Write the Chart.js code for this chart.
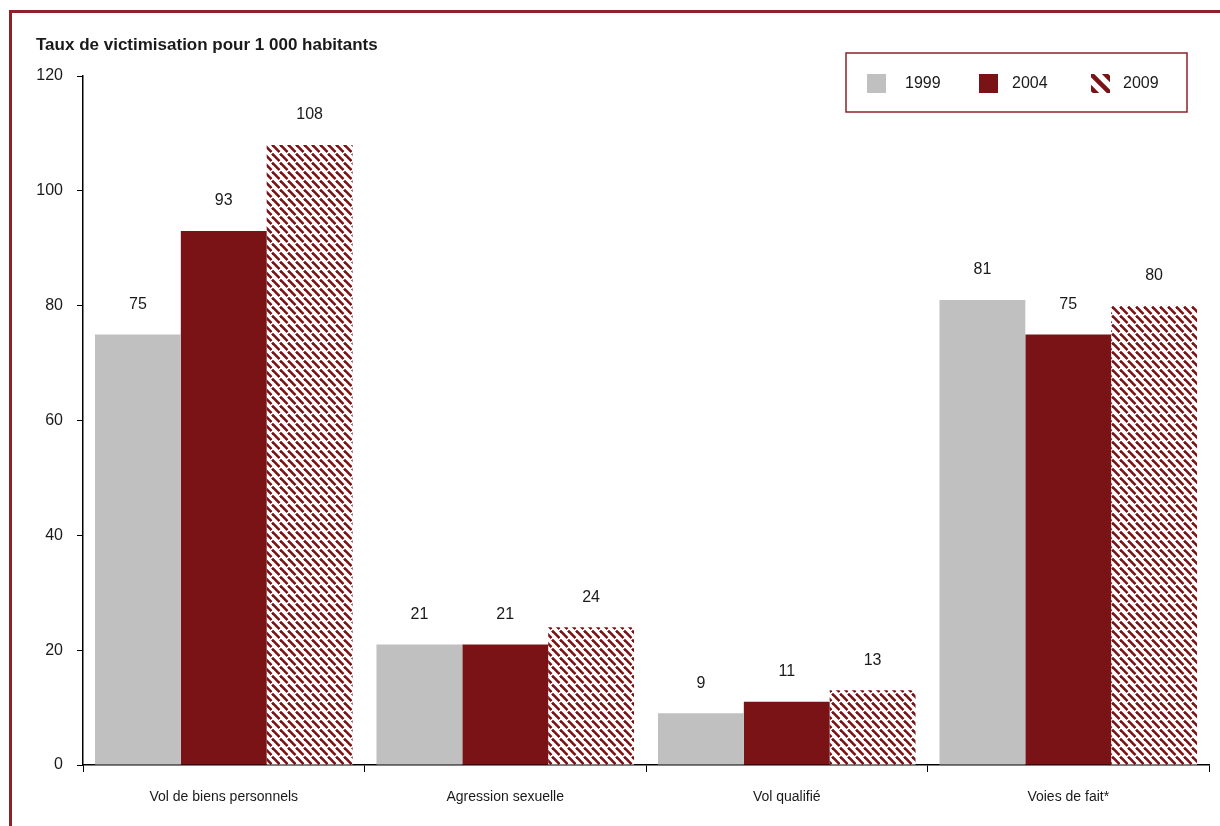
<!DOCTYPE html>
<html>
<head>
<meta charset="utf-8">
<script src="https://cdn.jsdelivr.net/npm/chart.js@4"></script>
<style>
  html, body { margin: 0; padding: 0; background: #fff; }
  #wrap { width: 1220px; height: 826px; position: relative; }
</style>
</head>
<body>
<div id="wrap"><canvas id="chart" width="1220" height="826"></canvas></div>
<script>
// chart data
const categories = ["Vol de biens personnels", "Agression sexuelle", "Vol qualifié", "Voies de fait*"];
const years = ["1999", "2004", "2009"];
const rates1999 = [75, 21, 9, 81];
const rates2004 = [93, 21, 11, 75];
const rates2009 = [108, 24, 13, 80];
const yTitle = "Taux de victimisation pour 1 000 habitants";

const GREY = "#c0c0c0";
const RED = "#7a1316";
const FRAME = "#8b2328";
const TEXT = "#1a1a1a";

/* hatch pattern for 2009 (dashed downward diagonal) */
function makeHatch() {
  const c = document.createElement("canvas");
  c.width = 8; c.height = 9;
  const g = c.getContext("2d");
  g.fillStyle = "#fff";
  g.fillRect(0, 0, 8, 9);
  g.strokeStyle = RED;
  g.lineWidth = 2.6;
  // diagonal dash going down-right, wrapped horizontally
  [-8, 0, 8].forEach(dx => {
    g.beginPath();
    g.moveTo(dx, 0.5);
    g.lineTo(dx + 7.5, 8);
    g.stroke();
  });
  return g.createPattern(c, "repeat");
}
const ctx = document.getElementById("chart").getContext("2d");
const hatch = makeHatch();

/* frame, title, value labels and legend box */
const decorPlugin = {
  id: "decor",
  afterDraw(chart) {
    const c = chart.ctx;
    c.save();
    // outer frame (top + left)
    c.strokeStyle = FRAME;
    c.lineWidth = 3;
    c.beginPath();
    c.moveTo(1220, 11.5);
    c.lineTo(10.5, 11.5);
    c.lineTo(10.5, 826);
    c.stroke();

    // axis title
    c.fillStyle = TEXT;
    c.font = "bold 17px 'Liberation Sans', Arial, sans-serif";
    c.textBaseline = "middle";
    c.textAlign = "left";
    c.fillText(yTitle, 36, 45);

    // value labels
    c.font = "16px 'Liberation Sans', Arial, sans-serif";
    c.textAlign = "center";
    chart.data.datasets.forEach((ds, i) => {
      chart.getDatasetMeta(i).data.forEach((bar, j) => {
        c.fillText(String(ds.data[j]), bar.x, bar.y - 30);
      });
    });

    // legend
    c.strokeStyle = FRAME;
    c.lineWidth = 1.5;
    c.strokeRect(846, 53, 341, 59);
    const swatchX = [867, 979, 1091];
    const textX = [905, 1012, 1123];
    c.textAlign = "left";
    chart.data.datasets.forEach((ds, i) => {
      const sx = swatchX[i], sy = 74, s = 19;
      if (ds.backgroundColor === hatch) {
        c.save();
        c.beginPath();
        c.rect(sx, sy, s, s);
        c.clip();
        c.strokeStyle = RED;
        c.lineWidth = 4.5;
        [-14, 0, 14].forEach(dx => {
          c.beginPath();
          c.moveTo(sx + dx - 2, sy - 2);
          c.lineTo(sx + dx + s + 2, sy + s + 2);
          c.stroke();
        });
        c.restore();
      } else {
        c.fillStyle = ds.backgroundColor;
        c.fillRect(sx, sy, s, s);
      }
      c.fillStyle = TEXT;
      c.fillText(ds.label, textX[i], 84);
    });
    c.restore();
  }
};

new Chart(ctx, {
  type: "bar",
  data: {
    labels: categories,
    datasets: [
      { label: years[0], data: rates1999, backgroundColor: GREY },
      { label: years[1], data: rates2004, backgroundColor: RED },
      { label: years[2], data: rates2009, backgroundColor: hatch }
    ]
  },
  options: {
    responsive: false,
    animation: false,
    devicePixelRatio: 1,
    layout: { padding: { left: 30, top: 76, right: 11, bottom: 0 } },
    datasets: { bar: { categoryPercentage: 0.915, barPercentage: 1.0 } },
    plugins: {
      legend: { display: false },
      tooltip: { enabled: false }
    },
    scales: {
      x: {
        grid: { drawOnChartArea: false, tickLength: 7, color: "#000", offset: true },
        border: { color: "#000", width: 1.5 },
        ticks: {
          color: TEXT,
          padding: 17,
          font: { family: "'Liberation Sans Narrow', 'Liberation Sans', Arial, sans-serif", size: 14 }
        },
        afterFit(scale) { scale.height = 61; }
      },
      y: {
        min: 0,
        max: 120,
        ticks: {
          stepSize: 20,
          color: TEXT,
          padding: 14,
          font: { family: "'Liberation Sans', Arial, sans-serif", size: 16 }
        },
        grid: { drawOnChartArea: false, tickLength: 6, color: "#000" },
        border: { color: "#000", width: 1.5 },
        afterFit(scale) { scale.width = 53; }
      }
    }
  },
  plugins: [decorPlugin]
});
</script>
</body>
</html>
